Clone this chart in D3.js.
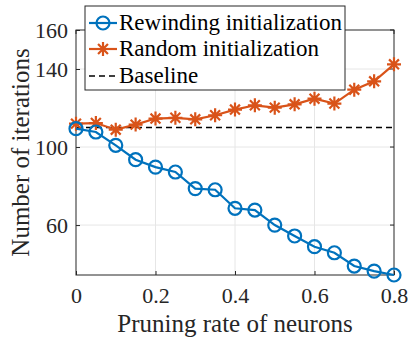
<!DOCTYPE html>
<html>
<head>
<meta charset="UTF-8">
<script src="https://cdn.jsdelivr.net/npm/d3@7"></script>
<style>
  @font-face { font-family: "PlotSerif"; src: local("Liberation Serif"), local("LiberationSerif"), local("Times New Roman"); }
</style>
</head>
<body style="margin:0">
<div id="chart"></div>
<script>
  // data
  const pruningRate = [0, 0.05, 0.1, 0.15, 0.2, 0.25, 0.3, 0.35, 0.4, 0.45, 0.5, 0.55, 0.6, 0.65, 0.7, 0.75, 0.8];
  const rewinding = [109.4, 107.7, 100.9, 93.5, 89.7, 87.2, 78.7, 78.1, 68.6, 67.7, 60.0, 54.4, 48.9, 45.8, 39.0, 36.4, 34.4];
  const randomInit = [112.0, 112.3, 108.9, 111.5, 114.6, 115.0, 114.2, 116.3, 119.2, 121.4, 120.2, 121.9, 124.8, 122.3, 129.4, 133.7, 142.4];
  const baseline = 110;
  const xTicks = [0, 0.2, 0.4, 0.6, 0.8];
  const yTicks = [60, 100, 140, 160];
  const legendLabels = ["Rewinding initialization", "Random initialization", "Baseline"];

  const width = 408, height = 338;
  const plot = { left: 76, right: 394, top: 30, bottom: 275 };
  const blue = "#0072BD", red = "#D95319";
  const serif = "'Liberation Serif', PlotSerif, 'Times New Roman', Tinos, serif";

  const x = d3.scaleLinear().domain([0, 0.8]).range([plot.left, plot.right]);
  const y = d3.scaleLinear().domain([34.4, 160]).range([plot.bottom, plot.top]);

  const svg = d3.select("#chart").append("svg")
      .attr("width", width)
      .attr("height", height);

  // grid
  svg.append("g").selectAll("line")
      .data(xTicks.slice(1, -1))
      .enter().append("line")
      .attr("x1", d => x(d)).attr("x2", d => x(d))
      .attr("y1", plot.top).attr("y2", plot.bottom)
      .attr("stroke", "#e6e6e6").attr("stroke-width", 1);
  svg.append("g").selectAll("line")
      .data(yTicks.slice(0, -1))
      .enter().append("line")
      .attr("x1", plot.left).attr("x2", plot.right)
      .attr("y1", d => y(d)).attr("y2", d => y(d))
      .attr("stroke", "#e6e6e6").attr("stroke-width", 1);

  // axes (box style)
  const tickFmt = d => d === 0 ? "0" : d3.format("")(d);
  const xAxis = d3.axisBottom(x).tickValues(xTicks).tickSize(-4).tickPadding(12).tickFormat(tickFmt);
  const yAxis = d3.axisLeft(y).tickValues(yTicks).tickSize(-4).tickPadding(8);

  const gx = svg.append("g").attr("transform", `translate(0,${plot.bottom})`).call(xAxis);
  const gy = svg.append("g").attr("transform", `translate(${plot.left},0)`).call(yAxis);
  [gx, gy].forEach(g => {
    g.attr("font-family", serif);
    g.select(".domain").remove();
    g.selectAll("line").attr("stroke", "#262626");
    g.selectAll("text")
      .attr("fill", "#262626")
      .attr("font-size", 22);
  });
  // top/right ticks
  svg.append("g").selectAll("line")
      .data(xTicks)
      .enter().append("line")
      .attr("x1", d => x(d)).attr("x2", d => x(d))
      .attr("y1", plot.top).attr("y2", plot.top + 4)
      .attr("stroke", "#262626");
  svg.append("g").selectAll("line")
      .data(yTicks)
      .enter().append("line")
      .attr("x1", plot.right - 4).attr("x2", plot.right)
      .attr("y1", d => y(d)).attr("y2", d => y(d))
      .attr("stroke", "#262626");

  svg.append("rect")
      .attr("x", plot.left).attr("y", plot.top)
      .attr("width", plot.right - plot.left).attr("height", plot.bottom - plot.top)
      .attr("fill", "none").attr("stroke", "#262626").attr("stroke-width", 1);

  // axis labels
  svg.append("text")
      .attr("x", (plot.left + plot.right) / 2).attr("y", 332)
      .attr("text-anchor", "middle")
      .attr("fill", "#262626")
      .attr("font-size", 25)
      .text("Pruning rate of neurons");
  svg.append("text")
      .attr("transform", `translate(29,${(plot.top + plot.bottom) / 2}) rotate(-90)`)
      .attr("text-anchor", "middle")
      .attr("fill", "#262626")
      .attr("font-size", 25)
      .text("Number of iterations");

  // baseline
  svg.append("line")
      .attr("x1", x(0)).attr("x2", x(0.8))
      .attr("y1", y(baseline)).attr("y2", y(baseline))
      .attr("stroke", "#000").attr("stroke-width", 1.5)
      .attr("stroke-dasharray", "6,4");

  const line = d3.line().x(d => x(d[0])).y(d => y(d[1]));
  const starPath = r => {
    const a = r * Math.SQRT1_2;
    return `M${-r},0L${r},0M0,${-r}L0,${r}M${-a},${-a}L${a},${a}M${-a},${a}L${a},${-a}`;
  };

  // random initialization
  const randPts = pruningRate.map((p, i) => [p, randomInit[i]]);
  svg.append("path").datum(randPts)
      .attr("d", line).attr("fill", "none")
      .attr("stroke", red).attr("stroke-width", 2.2);
  svg.append("g").selectAll("path")
      .data(randPts)
      .enter().append("path")
      .attr("transform", d => `translate(${x(d[0])},${y(d[1])})`)
      .attr("d", starPath(7))
      .attr("stroke", red).attr("stroke-width", 2.2).attr("fill", "none");

  // rewinding initialization
  const rewPts = pruningRate.map((p, i) => [p, rewinding[i]]);
  svg.append("path").datum(rewPts)
      .attr("d", line).attr("fill", "none")
      .attr("stroke", blue).attr("stroke-width", 2.2);
  svg.append("g").selectAll("circle")
      .data(rewPts)
      .enter().append("circle")
      .attr("cx", d => x(d[0])).attr("cy", d => y(d[1]))
      .attr("r", 6.5)
      .attr("fill", "none").attr("stroke", blue).attr("stroke-width", 2.2);

  // legend
  const lg = svg.append("g");
  lg.append("rect")
      .attr("x", 85).attr("y", 6).attr("width", 260).attr("height", 84)
      .attr("fill", "#fff").attr("stroke", "#262626").attr("stroke-width", 1);
  const rowsY = [23, 49, 76];
  const styles = [
    { color: blue, dash: null, marker: "circle" },
    { color: red, dash: null, marker: "star" },
    { color: "#000", dash: "6,4", marker: null }
  ];
  legendLabels.forEach((label, i) => {
    const s = styles[i];
    lg.append("line")
        .attr("x1", 89).attr("x2", 117)
        .attr("y1", rowsY[i]).attr("y2", rowsY[i])
        .attr("stroke", s.color).attr("stroke-width", s.dash ? 1.5 : 2.2)
        .attr("stroke-dasharray", s.dash);
    if (s.marker === "circle") {
      lg.append("circle").attr("cx", 103).attr("cy", rowsY[i]).attr("r", 6.5)
          .attr("fill", "none").attr("stroke", s.color).attr("stroke-width", 2.2);
    } else if (s.marker === "star") {
      lg.append("path").attr("transform", `translate(103,${rowsY[i]})`)
          .attr("d", starPath(7)).attr("fill", "none")
          .attr("stroke", s.color).attr("stroke-width", 2.2);
    }
    lg.append("text")
        .attr("x", 119).attr("y", rowsY[i] + 7)
        .attr("fill", "#000")
        .attr("font-size", 23)
        .text(label);
  });

  // force the serif face on every label through inline style
  svg.selectAll("text").style("font-family", serif);
</script>
</body>
</html>
